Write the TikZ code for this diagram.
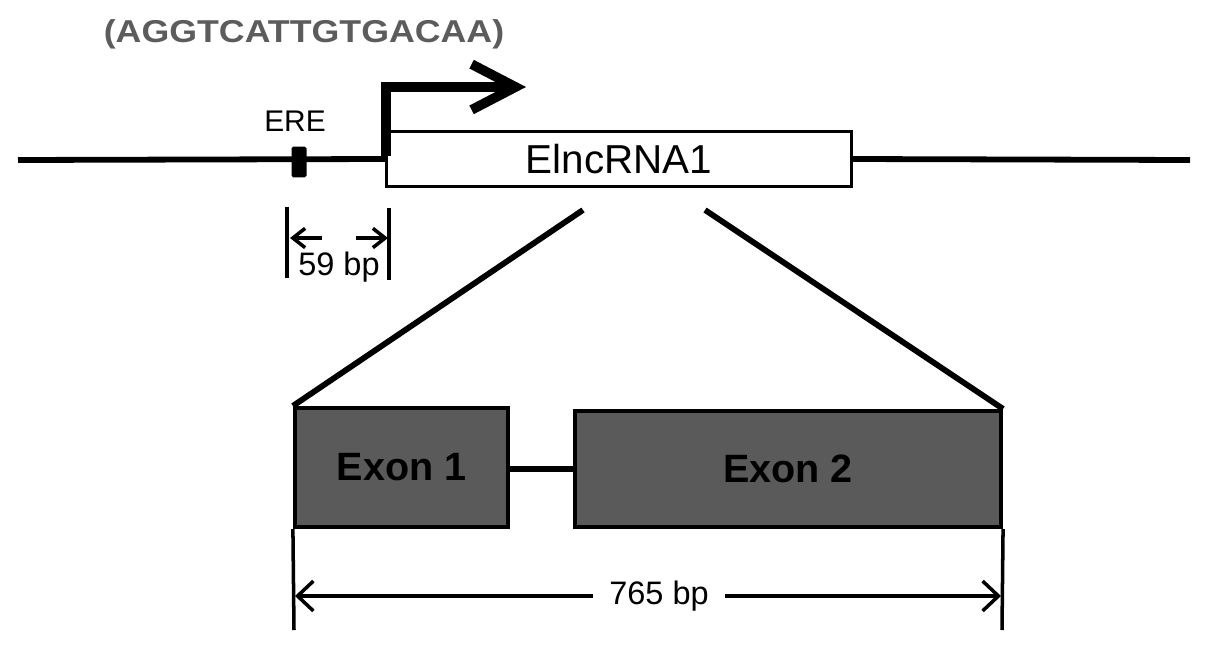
\documentclass[tikz,border=0pt]{standalone}
\usepackage{fontspec}
\setmainfont{Liberation Sans}
\newfontfamily\seqfont[FakeStretch=1.13]{Liberation Sans Bold}
\usepackage{tkz-euclide}
\usetikzlibrary{arrows.meta}
\definecolor{exongray}{HTML}{5A5A5A}
\definecolor{seqgray}{HTML}{5C5C5C}
\tikzset{>={Straight Barb[length=7pt,width=11pt]}}
\tikzset{
  dna/.style={line width=3.3pt},
  dimline/.style={line width=2pt},
  promoter/.style={line width=5.5pt, line join=miter,
    -{Straight Barb[length=25pt,width=26pt]}},
  rnabox/.style={draw, fill=white, line width=1.8pt, inner sep=0pt,
    minimum width=9.3cm, minimum height=1.1cm, font=\fontsize{23}{27}\selectfont},
  exonbox/.style={draw, fill=exongray, line width=2.4pt, inner sep=0pt,
    font=\bfseries\fontsize{22.5}{26}\selectfont},
  ere/.style={fill, inner sep=0pt, minimum width=0.3cm, minimum height=0.62cm, rounded corners=1pt},
  lbl/.style={font=\fontsize{18.5}{22}\selectfont, inner sep=1pt}
}
\begin{document}
\begin{tikzpicture}[x=0.02cm, y=-0.02cm]
    \useasboundingbox (0,0) rectangle (1205,646);
    \tkzDefPoints{18/160/L, 1190/160/R, 386/156/P, 386/87/Q, 526/87/S}
    \tkzDefPoints{583/210/Z1, 705/210/Z2}
    % gene on the chromosome
    \node[rnabox] (rna) at (619,159) {ElncRNA1};
    \draw[dna] (L) -- (rna.west);
    \draw[dna] (rna.east) -- (R);
    \node[ere] (ere) at (299,162) {};
    \node[font=\fontsize{17}{20}\selectfont] (erelbl) at (295,121) {ERE};
    \node[font=\seqfont\fontsize{18}{21}\selectfont, text=seqgray] (seq) at (304,34) {(AGGTCATTGTGACAA)};
    \draw[promoter] (P) -- (Q) -- (S);
    % ERE to TSS
    \tkzDefPoints{287/207/A1, 287/278/A2, 389/208/B1, 389/280/B2}
    \tkzDefPoints{322/238/A3, 290/238/A4, 356/238/B3, 388/238/B4}
    \draw[dimline] (A1) -- (A2);
    \draw[dimline] (B1) -- (B2);
    \draw[dimline, ->] (A3) -- (A4);
    \draw[dimline, ->] (B3) -- (B4);
    \node[lbl] (bp59) at (339,267) {59 bp};
    % exons
    \node[exonbox, minimum width=4.26cm, minimum height=2.38cm] (ex1) at (401.5,467.5) {Exon 1};
    \node[exonbox, minimum width=8.52cm, minimum height=2.32cm] (ex2) at (788,469) {Exon 2};
    \draw[dna] (ex1.east |- ex2.west) -- (ex2.west);
    \draw[dna] (Z1) -- (ex1.north west);
    \draw[dna] (Z2) -- (ex2.north east);
    % full length
    \tkzDefPoints{294/630/C1, 1002/630/C2, 295/596/D1, 1001/596/D2}
    \draw[dimline] (ex1.south west) -- (C1);
    \draw[dimline] (ex2.south east) -- (C2);
    \draw[dimline, >={Straight Barb[length=9pt,width=17pt]}, <->] (D1) -- (D2);
    \node[lbl, fill=white, inner xsep=9pt] (bp765) at (659,596) {765 bp};
\end{tikzpicture}
\end{document}
